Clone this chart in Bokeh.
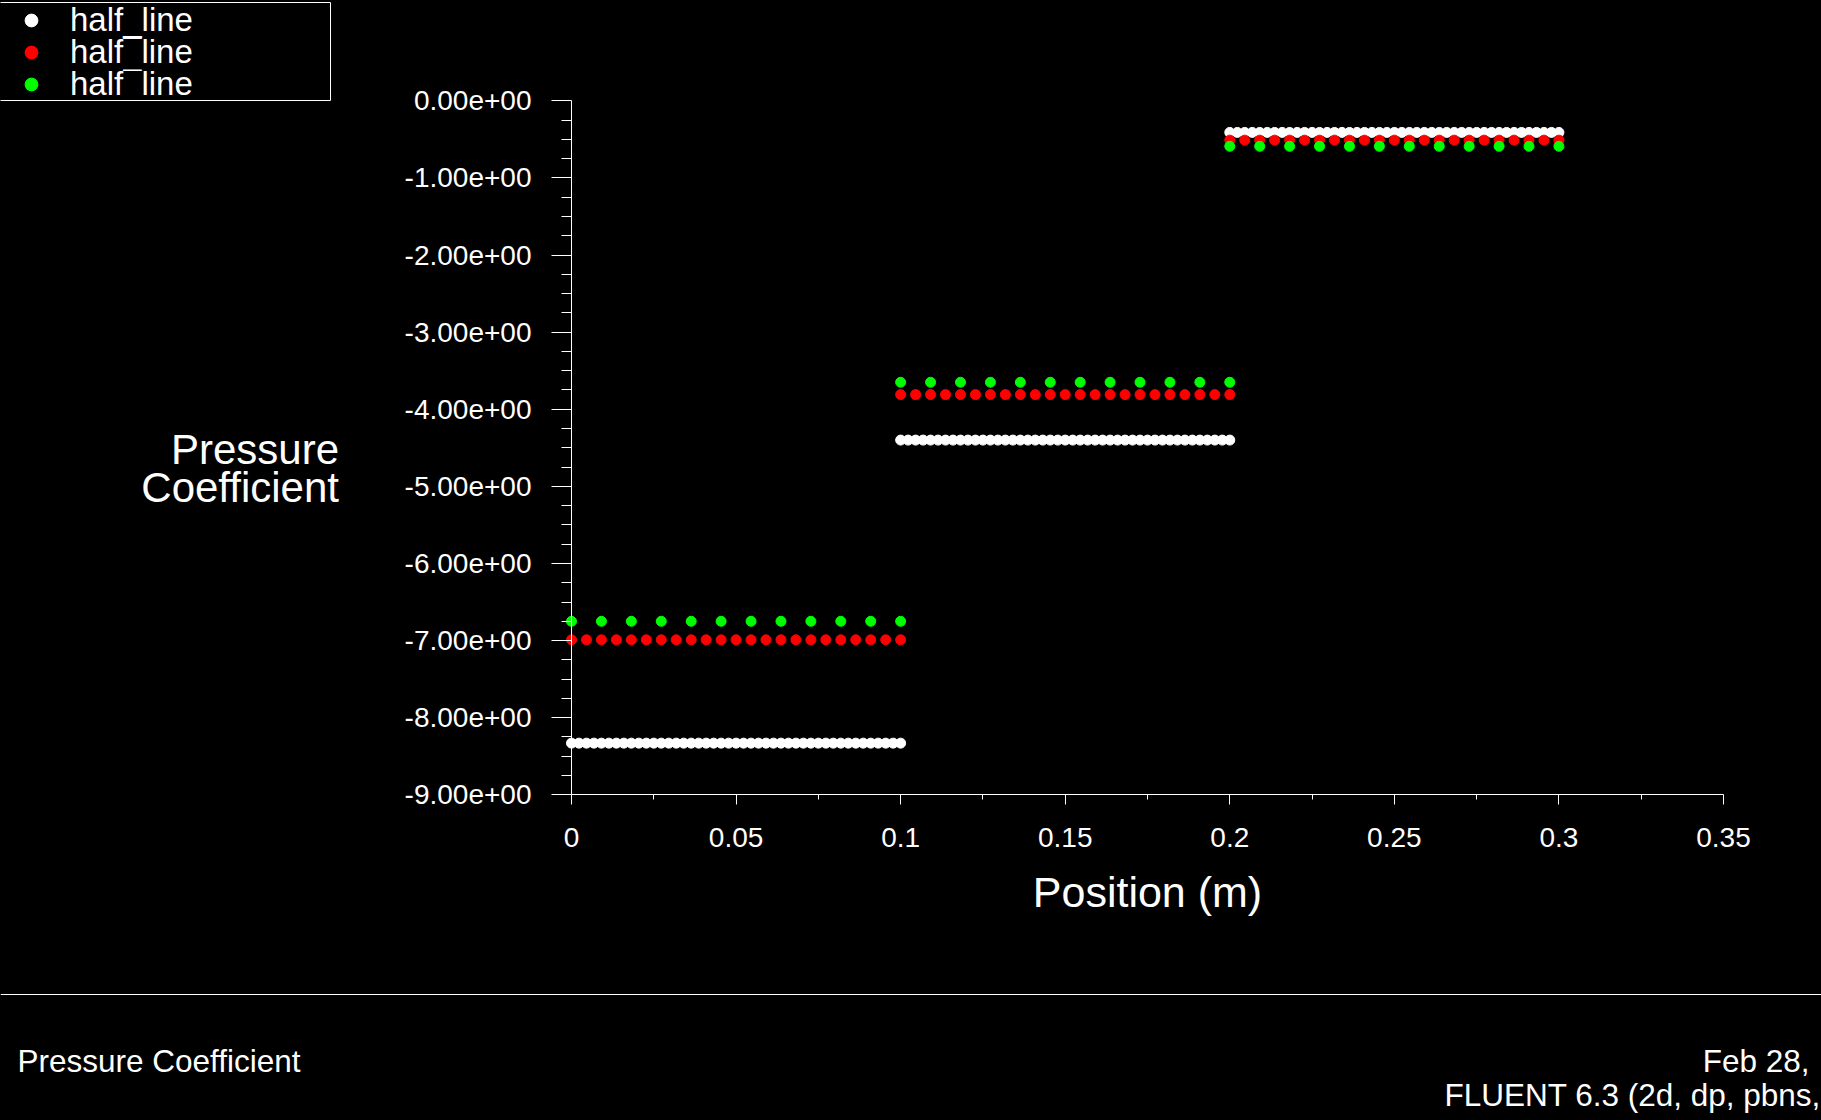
import numpy as np
from bokeh.plotting import figure
from bokeh.models import (Range1d, FixedTicker, Legend, LegendItem, Label, Span,
                          BoxAnnotation, GlobalInlineStyleSheet)
from bokeh.embed import file_html
from bokeh.resources import INLINE

# ---------------- data ----------------
x_edges = [0.0, 0.1, 0.2, 0.3]            # x extent of the three blocks (m)
white_levels = [-8.33, -4.40, -0.41]      # series 1 value in each block
red_levels = [-6.99, -3.81, -0.51]        # series 2 value in each block
green_levels = [-6.75, -3.65, -0.59]      # series 3 value in each block
white_counts = [45, 45, 45]               # points per block
red_counts = [23, 23, 23]
green_counts = [12, 12, 12]
series_labels = ["half_line", "half¯line", "half¯line"]
series_colors = ["#ffffff", "#ff0000", "#00ff00"]

x_ticks = [0.0, 0.05, 0.1, 0.15, 0.2, 0.25, 0.3, 0.35]
x_tick_labels = ["0", "0.05", "0.1", "0.15", "0.2", "0.25", "0.3", "0.35"]
y_ticks = [0, -1, -2, -3, -4, -5, -6, -7, -8, -9]
y_tick_labels = ["0.00e+00", "-1.00e+00", "-2.00e+00", "-3.00e+00", "-4.00e+00",
                 "-5.00e+00", "-6.00e+00", "-7.00e+00", "-8.00e+00", "-9.00e+00"]
x_title = "Position (m)"
y_title_lines = ["Pressure", "Coefficient"]
footer_left = "Pressure Coefficient"
footer_right = ["Feb 28,", "FLUENT 6.3 (2d, dp, pbns,"]


def expand(levels, counts):
    xs, ys = [], []
    for i, (lv, n) in enumerate(zip(levels, counts)):
        xi = np.linspace(x_edges[i], x_edges[i + 1], n)
        xs.extend(xi.tolist())
        ys.extend([lv] * n)
    return xs, ys


FONT = "Liberation Sans"

# ---------------- geometry (page pixels) ----------------
W, H = 1821, 1120
PX0, PX1 = 571, 1723          # pixel of x = 0 and x = 0.35
PY0, PY9 = 100.3, 794.3       # pixel of y = 0 and y = -9
K = (PX1 - PX0) / 0.35
KY = (PY9 - PY0) / 9.0


def fx(px):
    return (px - PX0) / K


def fy(py):
    return -(py - PY0) / KY


p = figure(width=W, height=H, frame_width=W, frame_height=H, min_border=0,
           x_range=Range1d(fx(0), fx(W)), y_range=Range1d(fy(H), fy(0)),
           output_backend="svg", toolbar_location=None)
p.background_fill_color = "#000000"
p.border_fill_color = "#000000"
p.outline_line_color = None
p.xgrid.visible = False
p.ygrid.visible = False

# axes (placed at x = 0 / y = -9 inside the full-page frame)
xa = p.xaxis[0]
xa.ticker = FixedTicker(ticks=x_ticks,
                        minor_ticks=[0.025 + 0.05 * i for i in range(7)])
xa.major_label_overrides = {t: s for t, s in zip(x_ticks, x_tick_labels)}
xa.bounds = (0, 0.35)
xa.fixed_location = -9
xa.axis_label = x_title

ya = p.yaxis[0]
ya.ticker = FixedTicker(ticks=y_ticks,
                        minor_ticks=[-0.25 * i for i in range(37) if i % 4 != 0])
ya.major_label_overrides = {t: s for t, s in zip(y_ticks, y_tick_labels)}
ya.bounds = (-9, 0)
ya.fixed_location = 0

for ax in (xa, ya):
    ax.axis_line_color = "#ffffff"
    ax.axis_line_width = 1
    ax.major_tick_line_color = "#ffffff"
    ax.minor_tick_line_color = "#ffffff"
    ax.major_tick_in = 0
    ax.minor_tick_in = 0
    ax.major_label_text_color = "#ffffff"
    ax.major_label_text_font = FONT
    ax.major_label_text_font_size = "28px"
    ax.axis_label_text_color = "#ffffff"
    ax.axis_label_text_font = FONT
    ax.axis_label_text_font_style = "normal"
    ax.axis_label_text_font_size = "43px"

xa.major_tick_out = 10
xa.minor_tick_out = 5
xa.major_label_standoff = 23
xa.axis_label_standoff = 18
ya.major_tick_out = 20
ya.minor_tick_out = 10
ya.major_label_standoff = 20

# data
renderers = []
for levels, counts, color in ((white_levels, white_counts, series_colors[0]),
                              (red_levels, red_counts, series_colors[1]),
                              (green_levels, green_counts, series_colors[2])):
    xs, ys = expand(levels, counts)
    r = p.scatter(x=xs, y=ys, marker="circle", size=10, fill_color=color,
                  line_color=color, line_width=1)
    renderers.append(r)

# legend box (top-left corner of the page) and one legend row per series
p.add_layout(BoxAnnotation(left=fx(-1), right=fx(330), top=fy(2), bottom=fy(100),
                           fill_color="#000000", fill_alpha=1.0,
                           line_color="#ffffff", line_width=1, line_alpha=1.0))
ITEM_H = 38
for lab, r, row_c in zip(series_labels, renderers, [20, 52, 84]):
    lg = Legend(items=[LegendItem(label=lab, renderers=[r])],
                location=(0, H - (row_c + ITEM_H / 2)),
                orientation="vertical", margin=0, padding=0, spacing=0,
                glyph_width=62, glyph_height=32, label_height=32,
                label_width=259, label_standoff=8,
                label_text_font=FONT, label_text_font_size="33px",
                label_text_color="#ffffff", label_text_baseline="middle",
                background_fill_alpha=0.0, border_line_color=None)
    p.add_layout(lg, "center")

# horizontal y-axis title, right aligned, two lines
for line, base_px in zip(y_title_lines, [449, 486.5]):
    p.add_layout(Label(x=fx(338.5), y=fy(base_px), text=line,
                       text_align="right", text_baseline="alphabetic",
                       text_font=FONT, text_font_size="42px",
                       text_color="#ffffff"))

# footer: separator and texts
p.add_layout(Span(location=fy(994), dimension="width", line_color="#ffffff",
                  line_width=1))
p.add_layout(Label(x=fx(17), y=fy(1060), text=footer_left, text_align="left",
                   text_baseline="alphabetic", text_font=FONT,
                   text_font_size="31.5px", text_color="#ffffff"))
p.add_layout(Label(x=fx(1809), y=fy(1060), text=footer_right[0],
                   text_align="right", text_baseline="alphabetic",
                   text_font=FONT, text_font_size="31.5px",
                   text_color="#ffffff"))
p.add_layout(Label(x=fx(1444), y=fy(1094), text=footer_right[1],
                   text_align="left", text_baseline="alphabetic",
                   text_font=FONT, text_font_size="31.5px",
                   text_color="#ffffff"))

p.stylesheets = [GlobalInlineStyleSheet(
    css="html, body { background-color: #000000; }")]

open("out.html", "w").write(file_html(p, INLINE))
